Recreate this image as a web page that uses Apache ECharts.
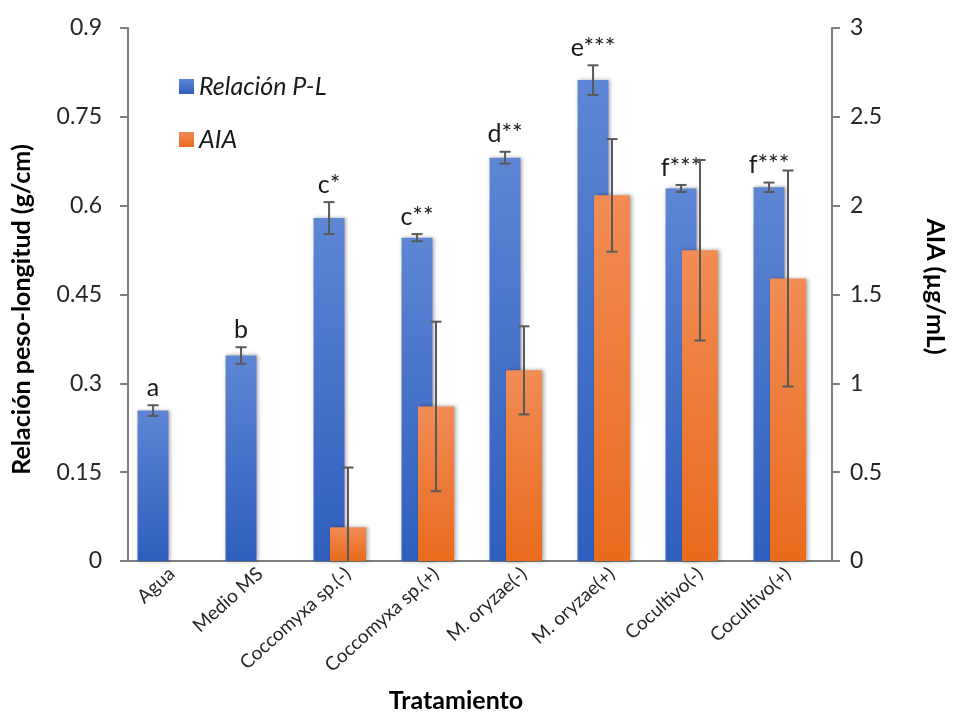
<!DOCTYPE html>
<html>
<head>
<meta charset="utf-8">
<script src="https://cdn.jsdelivr.net/npm/echarts@6/dist/echarts.min.js"></script>
<style>html,body{margin:0;padding:0;background:#fff;}#c{width:956px;height:713px;}</style>
</head>
<body>
<div id="c"></div>
<script>
// ---- data ----
var categories = ['Agua', 'Medio MS', 'Coccomyxa sp.(-)', 'Coccomyxa sp.(+)', 'M. oryzae(-)', 'M. oryzae(+)', 'Cocultivo(-)', 'Cocultivo(+)'];
var plValues = [0.254, 0.347, 0.579, 0.546, 0.681, 0.812, 0.629, 0.631];
var plErrors = [0.009, 0.014, 0.027, 0.006, 0.010, 0.025, 0.006, 0.008];
var plLetters = ['a', 'b', 'c*', 'c**', 'd**', 'e***', 'f***', 'f***'];
var aiaValues = [0, 0, 0.19, 0.87, 1.073, 2.058, 1.749, 1.59];
var aiaErrors = [0, 0, 0.336, 0.477, 0.248, 0.317, 0.508, 0.608];
var leftTicks = { min: 0, max: 0.9, interval: 0.15 };
var rightTicks = { min: 0, max: 3, interval: 0.5 };

var FONT = 'Lato, "Open Sans", sans-serif';
var blueGrad = new echarts.graphic.LinearGradient(0, 0, 0, 1, [
  { offset: 0, color: '#5d86d4' }, { offset: 1, color: '#2f5ebe' }]);
var orangeGrad = new echarts.graphic.LinearGradient(0, 0, 0, 1, [
  { offset: 0, color: '#f18c55' }, { offset: 1, color: '#e86a1c' }]);

function errRender(offsetFrac, withLabel) {
  return function (params, api) {
    var i = api.value(0);
    var v = api.value(1);
    var e = api.value(2);
    var band = api.size([1, 0])[0];
    var lowVal = v - e;
    var clipped = lowVal < 0;
    if (clipped) lowVal = 0;
    var top = api.coord([i, v + e]);
    var bot = api.coord([i, lowVal]);
    var x = top[0] + offsetFrac * band;
    var cap = 5.5;
    var children = [];
    var st = { stroke: '#595959', lineWidth: 2 };
    if (e > 0) {
      children.push({ type: 'line', shape: { x1: x, y1: top[1], x2: x, y2: bot[1] }, style: st });
      children.push({ type: 'line', shape: { x1: x - cap, y1: top[1], x2: x + cap, y2: top[1] }, style: st });
      if (!clipped) {
        children.push({ type: 'line', shape: { x1: x - cap, y1: bot[1], x2: x + cap, y2: bot[1] }, style: st });
      }
    }
    if (withLabel) {
      children.push({ type: 'text', x: x, y: top[1] - 5, style: {
        text: plLetters[params.dataIndex], textAlign: 'center', textVerticalAlign: 'bottom',
        font: '25px ' + FONT, fill: '#1a1a1a' } });
    }
    return { type: 'group', children: children };
  };
}

var chart = echarts.init(document.getElementById('c'), null, { renderer: 'canvas' });
chart.setOption({
  animation: false,
  backgroundColor: '#ffffff',
  grid: { left: 128, right: 122, top: 28, bottom: 152 },
  legend: {
    data: ['Relación P-L', 'AIA'],
    orient: 'vertical', left: 174, top: 69,
    itemWidth: 15, itemHeight: 15, itemGap: 28,
    icon: 'rect',
    textStyle: { fontFamily: FONT, fontStyle: 'italic', fontSize: 25, color: '#1a1a1a' }
  },
  xAxis: [{
    type: 'category', data: categories, gridIndex: 0,
    axisLine: { lineStyle: { color: '#7f7f7f', width: 2 } },
    axisTick: { show: false },
    axisLabel: { rotate: 42, fontFamily: FONT, fontSize: 19, color: '#262626', margin: 10, interval: 0 }
  }, {
    type: 'category', data: categories, gridIndex: 0, show: false
  }],
  yAxis: [{
    type: 'value', min: leftTicks.min, max: leftTicks.max, interval: leftTicks.interval,
    name: 'Relación peso-longitud (g/cm)', nameLocation: 'middle', nameGap: 94,
    nameTextStyle: { fontFamily: FONT, fontWeight: 'bold', fontSize: 25, color: '#000', padding: [0, 30, 0, 0] },
    splitLine: { show: false },
    axisLine: { show: true, lineStyle: { color: '#7f7f7f', width: 2 } },
    axisTick: { show: true, length: 8, lineStyle: { color: '#7f7f7f', width: 2 } },
    axisLabel: { fontFamily: FONT, fontSize: 23, color: '#262626', margin: 26 }
  }, {
    type: 'value', min: rightTicks.min, max: rightTicks.max, interval: rightTicks.interval,
    position: 'right',
    name: 'AIA (µg/mL)', nameLocation: 'middle', nameGap: 91, nameRotate: -90,
    nameTextStyle: { fontFamily: FONT, fontWeight: 'bold', fontSize: 25, color: '#000', padding: [0, 16, 0, 0] },
    splitLine: { show: false },
    axisLine: { show: true, lineStyle: { color: '#7f7f7f', width: 2 } },
    axisTick: { show: true, length: 8, lineStyle: { color: '#7f7f7f', width: 2 } },
    axisLabel: { fontFamily: FONT, fontSize: 23, color: '#262626', margin: 18 }
  }],
  graphic: [{
    type: 'text', x: 456, y: 701, z: 10,
    style: { text: 'Tratamiento', font: 'bold 25px ' + FONT, fill: '#000', textAlign: 'center', textVerticalAlign: 'middle' }
  }],
  series: [{
    name: 'Relación P-L', type: 'bar', xAxisIndex: 0, yAxisIndex: 0,
    data: plValues, barWidth: 31, barGap: '22.6%', z: 2,
    itemStyle: { color: blueGrad, shadowBlur: 4, shadowColor: 'rgba(0,0,0,0.35)', shadowOffsetX: 1.5 }
  }, {
    name: '_spacer', type: 'bar', xAxisIndex: 0, yAxisIndex: 0, data: [], barWidth: 31
  }, {
    name: 'AIA', type: 'bar', xAxisIndex: 1, yAxisIndex: 1,
    data: aiaValues, barWidth: 36, z: 3,
    itemStyle: { color: orangeGrad, shadowBlur: 4, shadowColor: 'rgba(0,0,0,0.35)', shadowOffsetX: 1.5 }
  }, {
    type: 'custom', xAxisIndex: 0, yAxisIndex: 0, z: 10, silent: true,
    renderItem: errRender(-19 / 88.25, true),
    data: plValues.map(function (v, i) { return [i, v, plErrors[i]]; })
  }, {
    type: 'custom', xAxisIndex: 1, yAxisIndex: 1, z: 10, silent: true,
    renderItem: errRender(0, false),
    data: aiaValues.map(function (v, i) { return [i, v, aiaErrors[i]]; })
  }]
});
</script>
</body>
</html>
